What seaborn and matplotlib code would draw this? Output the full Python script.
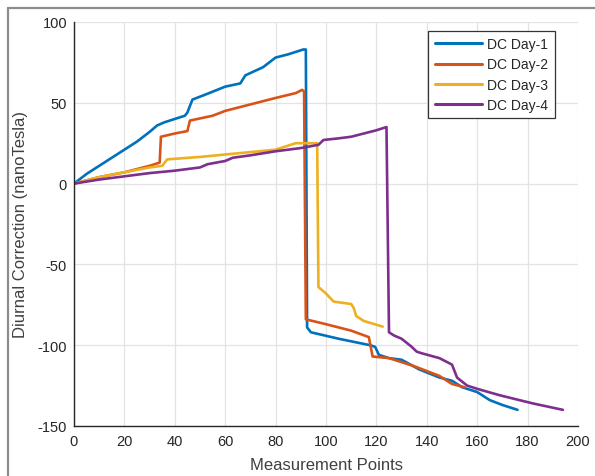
import matplotlib
matplotlib.use("Agg")
import matplotlib.pyplot as plt
import seaborn as sns
import pandas as pd
from matplotlib.lines import Line2D

# ---- data ----
day1_x = [0, 5, 10, 15, 20, 25, 30, 33, 36, 40, 44, 45, 47, 52, 60, 66, 68, 75, 80, 85, 91, 92,
          92.5, 94, 105, 117.5, 119.5, 121, 125, 130, 137, 145, 150, 154, 160, 165, 170, 176]
day1_y = [0, 6, 11, 16, 21, 26, 32, 36, 38, 40, 42, 44, 52, 55, 60, 62, 67, 72, 78, 80, 83, 83,
          -89, -92, -96, -100, -101, -106, -108, -109, -115, -120, -122, -126, -129, -134, -137, -140]

day2_x = [0, 10, 20, 30, 34, 34.5, 40, 45, 46, 55, 60, 70, 80, 88, 90.5, 91.3,
          92, 100, 110, 117, 118.5, 125, 130, 135, 140, 145, 150, 155]
day2_y = [0, 4, 7, 11, 13, 29, 31, 32.5, 39, 42, 45, 49, 53, 56, 58, 57,
          -84, -87, -91, -95, -107, -108, -110.5, -113, -116, -119, -124, -126]

day3_x = [0, 10, 20, 30, 35, 37, 50, 60, 70, 80, 84, 88, 96.5, 97, 100, 103, 110, 111, 112, 115, 122.5]
day3_y = [0, 4, 7, 10, 11, 15, 16.5, 18, 19.5, 21, 23, 25, 25, -64, -68, -73, -74.5, -77, -82, -85, -88.5]

day4_x = [0, 10, 20, 30, 40, 50, 53, 60, 63, 70, 80, 90, 97, 99, 105, 110, 115, 120, 124,
          125, 127, 130, 134, 136, 138, 145, 150, 152, 156, 160, 169, 182, 194]
day4_y = [0, 2.5, 4.5, 6.5, 8, 10, 12, 14, 16, 17.5, 20, 22, 24, 27, 28, 29, 31, 33, 35,
          -92, -94, -96, -101, -104, -105, -108, -112, -120, -125, -127, -131, -136, -140]

series_names = ["DC Day-1", "DC Day-2", "DC Day-3", "DC Day-4"]
colors = ["#0072BD", "#D95319", "#EDB120", "#7E2F8E"]
x_ticks = [0, 20, 40, 60, 80, 100, 120, 140, 160, 180, 200]
y_ticks = [-150, -100, -50, 0, 50, 100]

frames = []
for name, xs, ys in zip(series_names,
                        [day1_x, day2_x, day3_x, day4_x],
                        [day1_y, day2_y, day3_y, day4_y]):
    frames.append(pd.DataFrame({"x": xs, "y": ys, "series": name}))
df = pd.concat(frames, ignore_index=True)

sns.set_theme(style="white")
plt.rcParams["font.family"] = ["Liberation Sans", "DejaVu Sans"]
plt.rcParams["axes.unicode_minus"] = False

fig = plt.figure(figsize=(5.95, 4.77), dpi=100)
ax = fig.add_axes([74/595, 1 - 427/477, (578 - 74)/595, (427 - 23)/477])

sns.lineplot(data=df, x="x", y="y", hue="series", hue_order=series_names,
             palette=colors, sort=False, estimator=None, units="series",
             linewidth=1.9, ax=ax)

ax.set_xlim(0, 200)
ax.set_ylim(-150, 100)
ax.set_xticks(x_ticks)
ax.set_yticks(y_ticks)
ax.grid(True, color="#e3e3e3", linewidth=0.9)
ax.set_axisbelow(True)
for s in ["top", "right"]:
    ax.spines[s].set_visible(False)
for s in ["left", "bottom"]:
    ax.spines[s].set_color("#262626")
    ax.spines[s].set_linewidth(1.0)
ax.tick_params(axis="both", direction="in", length=3, width=0.8, color="#262626",
               labelsize=10.5, labelcolor="#262626", pad=5)
ax.tick_params(axis="x", pad=6)
ax.set_xlabel("Measurement Points", fontsize=12, color="#404040")
ax.set_ylabel("Diurnal Correction (nanoTesla)", fontsize=12, color="#404040")
ax.yaxis.set_label_coords(-0.091, 0.5)
ax.xaxis.set_label_coords(0.5, -0.076)

leg = ax.legend(loc="upper right", bbox_to_anchor=(0.954, 0.978), borderaxespad=0,
                fontsize=10, frameon=True, fancybox=False, handlelength=3.4,
                handletextpad=0.4, labelspacing=0.45, borderpad=0.45, title=None)
leg.get_frame().set_edgecolor("#333333")
leg.get_frame().set_linewidth(0.9)
leg.get_frame().set_facecolor("white")
leg.get_frame().set_alpha(1)
for line in leg.get_lines():
    line.set_linewidth(2.2)

# outer frame lines (top and left) as in the reference screenshot
fy = 1 - 9/477
fx = 8/595
fig.add_artist(Line2D([fx, 1], [fy, fy], transform=fig.transFigure, color="#8c8c8c", linewidth=1.6))
fig.add_artist(Line2D([fx, fx], [0, fy], transform=fig.transFigure, color="#8c8c8c", linewidth=1.6))

fig.savefig("out.png", dpi=100)
